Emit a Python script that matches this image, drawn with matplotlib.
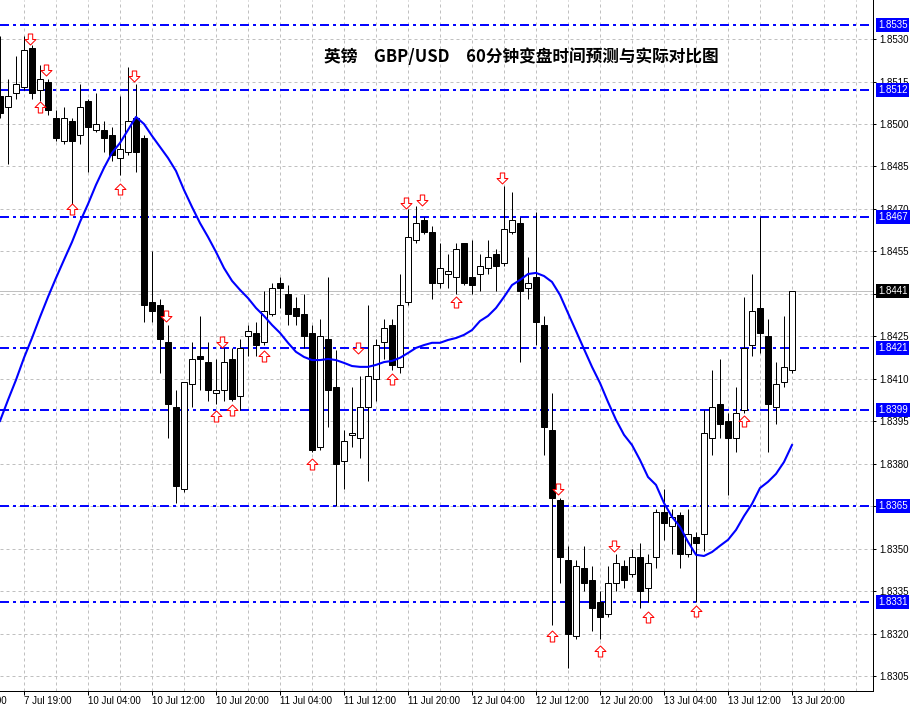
import matplotlib
matplotlib.use('Agg')
import matplotlib.pyplot as plt
from matplotlib.path import Path

plt.rcParams['font.family'] = ['Liberation Sans', 'DejaVu Sans']

# hourly GBP/USD candles
opens = [1.8510, 1.8506, 1.8511, 1.8513, 1.8527, 1.8512, 1.8515, 1.8502, 1.8494, 1.8501,
         1.8496, 1.8508, 1.8498, 1.8498, 1.8496, 1.8488, 1.8490, 1.8502, 1.8495, 1.8437,
         1.8436, 1.8423, 1.8400, 1.8371, 1.8408, 1.8418, 1.8416, 1.8405, 1.8406, 1.8417,
         1.8404, 1.8425, 1.8426, 1.8423, 1.8433, 1.8444, 1.8440, 1.8435, 1.8433, 1.8426,
         1.8386, 1.8424, 1.8407, 1.8381, 1.8390, 1.8389, 1.8400, 1.8410, 1.8423, 1.8429,
         1.8414, 1.8437, 1.8459, 1.8466, 1.8462, 1.8444, 1.8447, 1.8446, 1.8458, 1.8446,
         1.8447, 1.8449, 1.8454, 1.8451, 1.8462, 1.8465, 1.8442, 1.8446, 1.8429, 1.8392,
         1.8367, 1.8346, 1.8319, 1.8343, 1.8339, 1.8331, 1.8327, 1.8338, 1.8344, 1.8341,
         1.8347, 1.8336, 1.8347, 1.8363, 1.8358, 1.8362, 1.8348, 1.8354, 1.8355, 1.8389,
         1.8401, 1.8395, 1.8389, 1.8399, 1.8422, 1.8435, 1.8425, 1.8400, 1.8409, 1.8413]
highs = [1.8531, 1.8516, 1.8524, 1.8531, 1.8528, 1.8521, 1.8516, 1.8505, 1.8506, 1.8502,
         1.8514, 1.8509, 1.8511, 1.8501, 1.8499, 1.8510, 1.8520, 1.8514, 1.8496, 1.8455,
         1.8438, 1.8429, 1.8406, 1.8409, 1.8423, 1.8432, 1.8423, 1.8417, 1.8421, 1.8421,
         1.8424, 1.8429, 1.8430, 1.8441, 1.8444, 1.8446, 1.8443, 1.8439, 1.8440, 1.8429,
         1.8431, 1.8446, 1.8420, 1.8392, 1.8407, 1.8411, 1.8436, 1.8424, 1.8431, 1.8431,
         1.8447, 1.8470, 1.8471, 1.8467, 1.8464, 1.8458, 1.8454, 1.8458, 1.8458, 1.8459,
         1.8454, 1.8459, 1.8456, 1.8478, 1.8476, 1.8467, 1.8453, 1.8469, 1.8432, 1.8405,
         1.8368, 1.8351, 1.8346, 1.8351, 1.8344, 1.8335, 1.8344, 1.8348, 1.8346, 1.8350,
         1.8352, 1.8348, 1.8364, 1.8371, 1.8364, 1.8363, 1.8364, 1.8356, 1.8399, 1.8413,
         1.8417, 1.8398, 1.8407, 1.8439, 1.8447, 1.8467, 1.8431, 1.8416, 1.8432, 1.8441]
lows = [1.8502, 1.8486, 1.8509, 1.8512, 1.8509, 1.8508, 1.8503, 1.8494, 1.8493, 1.8471,
        1.8493, 1.8483, 1.8497, 1.8490, 1.8487, 1.8482, 1.8489, 1.8483, 1.8430, 1.8430,
        1.8412, 1.8389, 1.8366, 1.8370, 1.8400, 1.8406, 1.8402, 1.8401, 1.8402, 1.8402,
        1.8399, 1.8418, 1.8418, 1.8422, 1.8432, 1.8435, 1.8429, 1.8429, 1.8421, 1.8384,
        1.8385, 1.8393, 1.8365, 1.8371, 1.8386, 1.8382, 1.8374, 1.8402, 1.8417, 1.8413,
        1.8412, 1.8436, 1.8458, 1.8461, 1.8438, 1.8442, 1.8442, 1.8440, 1.8443, 1.8440,
        1.8441, 1.8447, 1.8441, 1.8450, 1.8461, 1.8416, 1.8438, 1.8422, 1.8383, 1.8323,
        1.8338, 1.8308, 1.8318, 1.8335, 1.8321, 1.8318, 1.8326, 1.8335, 1.8336, 1.8340,
        1.8329, 1.8331, 1.8343, 1.8353, 1.8348, 1.8343, 1.8347, 1.8331, 1.8349, 1.8383,
        1.8389, 1.8369, 1.8384, 1.8398, 1.8418, 1.8419, 1.8384, 1.8394, 1.8407, 1.8412]
closes = [1.8504, 1.8510, 1.8514, 1.8526, 1.8511, 1.8516, 1.8505, 1.8495, 1.8502, 1.8494,
          1.8506, 1.8499, 1.8500, 1.8495, 1.8489, 1.8491, 1.8501, 1.8490, 1.8436, 1.8434,
          1.8424, 1.8401, 1.8372, 1.8409, 1.8417, 1.8417, 1.8406, 1.8406, 1.8416, 1.8403,
          1.8421, 1.8427, 1.8422, 1.8434, 1.8442, 1.8442, 1.8433, 1.8432, 1.8425, 1.8385,
          1.8425, 1.8406, 1.8380, 1.8388, 1.8391, 1.8400, 1.8411, 1.8422, 1.8428, 1.8415,
          1.8436, 1.8460, 1.8465, 1.8462, 1.8444, 1.8449, 1.8448, 1.8456, 1.8444, 1.8443,
          1.8450, 1.8453, 1.8450, 1.8463, 1.8466, 1.8441, 1.8444, 1.8430, 1.8393, 1.8368,
          1.8347, 1.8320, 1.8344, 1.8338, 1.8329, 1.8326, 1.8338, 1.8345, 1.8339, 1.8347,
          1.8335, 1.8345, 1.8363, 1.8359, 1.8361, 1.8348, 1.8355, 1.8352, 1.8391, 1.8400,
          1.8394, 1.8389, 1.8398, 1.8421, 1.8434, 1.8426, 1.8401, 1.8408, 1.8414, 1.8441]
# blue moving average line
ma = [1.83951, 1.84025, 1.84096, 1.84174, 1.84244, 1.84318, 1.84389, 1.84456, 1.84520, 1.84583,
      1.84654, 1.84717, 1.84785, 1.84845, 1.84898, 1.84933, 1.84979, 1.85025, 1.85000, 1.84958,
      1.84919, 1.84880, 1.84834, 1.84767, 1.84707, 1.84650, 1.84601, 1.84548, 1.84491, 1.84446,
      1.84414, 1.84385, 1.84350, 1.84322, 1.84290, 1.84262, 1.84227, 1.84195, 1.84177, 1.84166,
      1.84166, 1.84170, 1.84166, 1.84156, 1.84145, 1.84142, 1.84142, 1.84149, 1.84159, 1.84163,
      1.84174, 1.84191, 1.84209, 1.84219, 1.84227, 1.84227, 1.84237, 1.84244, 1.84255, 1.84272,
      1.84304, 1.84322, 1.84350, 1.84389, 1.84431, 1.84449, 1.84470, 1.84474, 1.84463, 1.84442,
      1.84396, 1.84332, 1.84269, 1.84205, 1.84142, 1.84085, 1.84018, 1.83955, 1.83902, 1.83866,
      1.83813, 1.83753, 1.83725, 1.83661, 1.83612, 1.83577, 1.83524, 1.83478, 1.83474, 1.83488,
      1.83510, 1.83531, 1.83566, 1.83615, 1.83658, 1.83714, 1.83736, 1.83764, 1.83806, 1.83866]

# predicted turning points (red arrows)
down_bars = [4, 6, 17, 21, 28, 45, 51, 53, 63, 70, 77]
down_prices = [1.8530, 1.8519, 1.8517, 1.8432, 1.8423, 1.8421, 1.8472, 1.8473, 1.8481, 1.8371, 1.8351]
up_bars = [5, 9, 15, 27, 29, 33, 39, 49, 57, 69, 75, 81, 87, 93]
up_prices = [1.8506, 1.8470, 1.8477, 1.8397, 1.8399, 1.8418, 1.8380, 1.8410, 1.8437, 1.8319,
             1.8314, 1.8326, 1.8328, 1.8395]

levels = [1.8535, 1.8512, 1.8467, 1.8421, 1.8399, 1.8365, 1.8331]
last_price = 1.8441
price_ticks = [1.8305 + 0.0015 * i for i in range(16)]
time_ticks = [-5, 3, 11, 19, 27, 35, 43, 51, 59, 67, 75, 83, 91, 99]
time_labels = ['7 Jul 11:00', '7 Jul 19:00', '10 Jul 04:00', '10 Jul 12:00', '10 Jul 20:00',
               '11 Jul 04:00', '11 Jul 12:00', '11 Jul 20:00', '12 Jul 04:00', '12 Jul 12:00',
               '12 Jul 20:00', '13 Jul 04:00', '13 Jul 12:00', '13 Jul 20:00']
title = '英镑\u3000GBP/USD\u300060分钟变盘时间预测与实际对比图'

px = 0.72  # points per pixel at dpi 100
fig = plt.figure(figsize=(9.14, 7.09), dpi=100)
ax = fig.add_axes([0, 18 / 709, 873 / 914, 691 / 709])
ax.set_xlim(0, 873 / 8)
ax.set_ylim(1.82997, 1.85438)

for s in ['top', 'left']:
    ax.spines[s].set_visible(False)
for s in ['right', 'bottom']:
    ax.spines[s].set_linewidth(px)
    ax.spines[s].set_color('black')

# grid
for p in price_ticks:
    ax.axhline(p, color='#c0c0c0', lw=px, ls=(0, (3, 3)), zorder=0)
for b in range(3, 110, 4):
    ax.axvline(b, color='#c0c0c0', lw=px, ls=(0, (3, 3)), zorder=0)

ax.axhline(last_price, color='#c0c0c0', lw=px, zorder=0.5)
lw_lv = 1.4
for lv in levels:
    ax.axhline(lv, color='#0000ff', lw=lw_lv,
               ls=(0, (9 * px / lw_lv, 4 * px / lw_lv, 3 * px / lw_lv, 4 * px / lw_lv)), zorder=1)

# candles
idx = list(range(len(opens)))
ax.vlines(idx, lows, highs, color='black', lw=px, zorder=2)
for i in idx:
    o, c = opens[i], closes[i]
    up = c >= o
    ax.bar(i, abs(c - o) if c != o else 0.00003, bottom=min(o, c), width=0.68,
           color='white' if up else 'black', edgecolor='black', linewidth=px, zorder=3)

ax.plot(idx, ma, color='#0000ff', lw=1.5, zorder=4)

# arrow markers
down_arrow = Path([(-0.2, 0.5), (0.2, 0.5), (0.2, 0.0), (0.5, 0.0), (0.0, -0.5),
                   (-0.5, 0.0), (-0.2, 0.0), (-0.2, 0.5)], closed=True)
up_arrow = Path([(-0.2, -0.5), (0.2, -0.5), (0.2, 0.0), (0.5, 0.0), (0.0, 0.5),
                 (-0.5, 0.0), (-0.2, 0.0), (-0.2, -0.5)], closed=True)
ax.scatter([b - 0.2 for b in down_bars], down_prices, marker=down_arrow, s=(11 * px) ** 2,
           facecolor='white', edgecolor='red', linewidth=px, zorder=5)
ax.scatter(up_bars, up_prices, marker=up_arrow, s=(11 * px) ** 2,
           facecolor='white', edgecolor='red', linewidth=px, zorder=5)

# axes ticks; labels fully hidden under a price box are left blank
ax.yaxis.tick_right()
ax.set_yticks(price_ticks)
hidden = [last_price] + levels
ax.set_yticklabels(['' if any(abs(p - h) < 0.00015 for h in hidden) and
                    abs(p - 1.8470) > 0.00001 and abs(p - 1.8515) > 0.00001
                    else '%.4f' % p for p in price_ticks])
ax.tick_params(axis='y', direction='out', length=3 * px, width=px, pad=3 * px, labelsize=7)
ax.set_xticks([t for t in time_ticks if t >= 0])
ax.set_xticklabels([])
ax.tick_params(axis='x', direction='out', length=4 * px, width=px)

for t, lab in zip(time_ticks, time_labels):
    ax.annotate(lab, xy=(t, 0), xycoords=ax.get_xaxis_transform(), xytext=(0, -7),
                textcoords='offset points', ha='left', va='center', fontsize=7,
                annotation_clip=False)

for lv in levels:
    ax.annotate('%.4f' % lv, xy=(1, lv), xycoords=ax.get_yaxis_transform(),
                xytext=(5 * px, 0), textcoords='offset points', ha='left', va='center',
                fontsize=7, color='white', zorder=10, annotation_clip=False,
                bbox=dict(boxstyle='square,pad=0.2', fc='#0000ff', ec='none'))
ax.annotate('%.4f' % last_price, xy=(1, last_price), xycoords=ax.get_yaxis_transform(),
            xytext=(5 * px, 0), textcoords='offset points', ha='left', va='center',
            fontsize=7, color='white', zorder=10, annotation_clip=False,
            bbox=dict(boxstyle='square,pad=0.2', fc='black', ec='none'))

fig.text(521 / 914, 1 - 57 / 709, title, family=['Noto Sans CJK SC', 'DejaVu Sans'],
         fontweight='bold', fontsize=12, ha='center', va='center')

fig.savefig('out.png', dpi=100, facecolor='white')
